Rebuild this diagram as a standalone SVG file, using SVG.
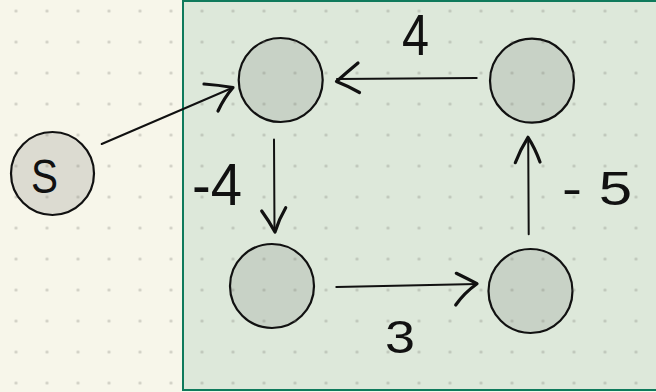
<svg xmlns="http://www.w3.org/2000/svg" width="656" height="392" viewBox="0 0 656 392">
  <style>
    .node { stroke: #111; stroke-width: 2.2; }
    .src { fill: #dcdbd1; }
    .inner { fill: #c8d2c6; }
    .edge { fill: none; stroke: #111; stroke-width: 2; stroke-linecap: round; }
    .head { fill: none; stroke: #111; stroke-width: 3.2; stroke-linecap: round; stroke-linejoin: round; }
    .lbl { font-family: "Liberation Sans", "DejaVu Sans", sans-serif; fill: #111; }
  </style>
  <defs>
    <pattern id="dots" patternUnits="userSpaceOnUse" x="0.5" y="-4.5" width="31" height="31">
      <circle cx="15.5" cy="15.5" r="1.6" fill="#7a7a70" fill-opacity="0.32"/>
    </pattern>
  </defs>

  <!-- paper background -->
  <rect x="0" y="0" width="656" height="392" fill="#f7f6ea"/>

  <!-- highlighted region -->
  <rect id="region" x="183" y="1" width="480" height="389" fill="#dde8da" stroke="#0f7a5c" stroke-width="2"/>

  <!-- nodes -->
  <g id="node-s">
    <circle class="node src" cx="52.5" cy="173.5" r="41.5"/>
  </g>
  <g id="node-a">
    <circle class="node inner" cx="280.7" cy="80" r="42"/>
  </g>
  <g id="node-b">
    <circle class="node inner" cx="532" cy="80.7" r="42"/>
  </g>
  <g id="node-c">
    <circle class="node inner" cx="272" cy="286" r="42"/>
  </g>
  <g id="node-d">
    <circle class="node inner" cx="530.5" cy="291" r="42"/>
  </g>

  <!-- dot grid over the page -->
  <rect x="0" y="0" width="656" height="392" fill="url(#dots)"/>

  <!-- connectors -->
  <g id="connectors">
    <!-- S to A -->
    <path class="edge" d="M101.7,144 L232,88"/>
    <path class="head" d="M204,84 Q218,85 233,87.5 Q224,98 218,111"/>
    <!-- B to A -->
    <path class="edge" d="M476.7,78 L337,79"/>
    <path class="head" d="M358,63 Q346,73 336.5,81.5 Q348,86 359.5,92.5"/>
    <!-- A to C -->
    <path class="edge" d="M274,139.5 L274.5,231"/>
    <path class="head" d="M261.7,211 Q269,221 275,232 Q279,219 285.7,207.7"/>
    <!-- C to D -->
    <path class="edge" d="M336.3,287 L477,284"/>
    <path class="head" d="M456.3,273.3 Q468,279 477,283.7 Q464,293 455.7,305"/>
    <!-- D to B -->
    <path class="edge" d="M528.7,234.3 L528.2,138"/>
    <path class="head" d="M515.3,162.7 Q520,150 528,137.3 Q535,148 540,162"/>
  </g>

  <!-- labels -->
  <g id="labels">
    <text class="lbl" x="44.5" y="193" font-size="48" text-anchor="middle" textLength="27" lengthAdjust="spacingAndGlyphs">S</text>
    <text class="lbl" x="402" y="55" font-size="58" textLength="27" lengthAdjust="spacingAndGlyphs">4</text>
    <text class="lbl" x="192" y="205" font-size="60" textLength="50" lengthAdjust="spacingAndGlyphs">-4</text>
    <text class="lbl" x="562" y="205" font-size="48" textLength="70" lengthAdjust="spacingAndGlyphs">- 5</text>
    <text class="lbl" x="385" y="353" font-size="46" textLength="30" lengthAdjust="spacingAndGlyphs">3</text>
  </g>
</svg>
